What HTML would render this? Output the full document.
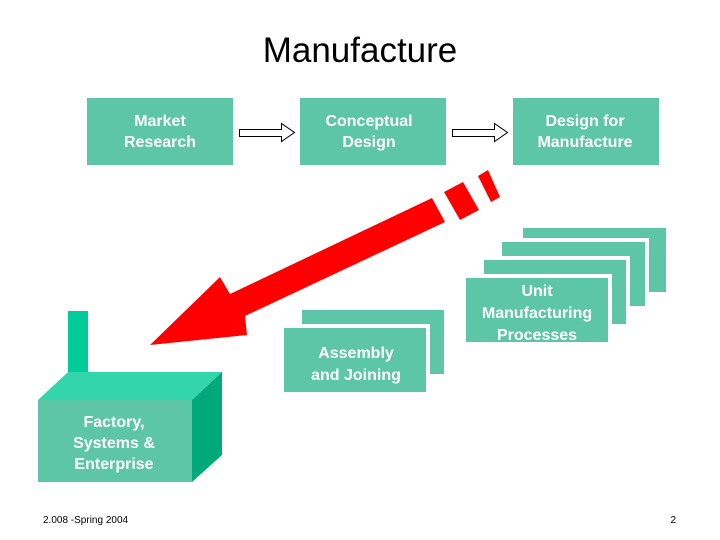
<!DOCTYPE html>
<html><head><style>
body{margin:0;background:#fff;}
svg{display:block}
text{font-family:"Liberation Sans",Arial,sans-serif;}
.b{font-weight:bold;fill:#fff;font-size:16px;text-anchor:middle}
</style></head><body>
<svg width="720" height="540" viewBox="0 0 720 540">
<text x="360" y="62" font-size="35" text-anchor="middle" fill="#000">Manufacture</text>
<g fill="#5cc6a6">
<rect x="87" y="98" width="146" height="67"/>
<rect x="300" y="98" width="146" height="67"/>
<rect x="513" y="98" width="146" height="67"/>
</g>
<text class="b" x="160" y="126">Market</text><text class="b" x="160" y="147">Research</text>
<text class="b" x="369" y="126">Conceptual</text><text class="b" x="369" y="147">Design</text>
<text class="b" x="585" y="126">Design for</text><text class="b" x="585" y="147">Manufacture</text>
<g fill="#fff" stroke="#000" stroke-width="1">
<polygon points="239.5,129.5 281.5,129.5 281.5,123.5 294.5,132.5 281.5,141.5 281.5,136.5 239.5,136.5"/>
<polygon points="452.5,129.5 494.5,129.5 494.5,123.5 507.5,132.5 494.5,141.5 494.5,136.5 452.5,136.5"/>
</g>
<g fill="#5cc6a6" stroke="#fff" stroke-width="4">
<rect x="521" y="226" width="147" height="68"/>
<rect x="500" y="240" width="147" height="68"/>
<rect x="482" y="258" width="146" height="68"/>
<rect x="464" y="276" width="146" height="68"/>
<rect x="300" y="308" width="146" height="68"/>
<rect x="282" y="326" width="146" height="68"/>
</g>
<text class="b" x="537" y="296">Unit</text><text class="b" x="537" y="318">Manufacturing</text><text class="b" x="537" y="340">Processes</text>
<text class="b" x="356" y="358">Assembly</text><text class="b" x="356" y="380">and Joining</text>
<g fill="#ff0000">
<polygon points="150,345 220,277 230,294 432,198 445,222 245,316 247,335"/>
<polygon points="444,192 463,182 479,210 460,220"/>
<polygon points="478,176 488,170 500,197 491,202"/>
</g>
<rect x="68" y="311" width="20" height="62" fill="#00cc99"/>
<polygon points="38,400 68,372 222,372 192,400" fill="#33d6aa"/>
<polygon points="192,400 222,372 222,455 192,482" fill="#00a87a"/>
<rect x="38" y="400" width="154" height="82" fill="#5cc6a6"/>
<text class="b" x="114" y="427">Factory,</text><text class="b" x="114" y="448">Systems &amp;</text><text class="b" x="114" y="469">Enterprise</text>
<text x="43" y="523" font-size="10" fill="#000">2.008 -Spring 2004</text>
<text x="676" y="523" font-size="10" fill="#000" text-anchor="end">2</text>
</svg>
</body></html>
